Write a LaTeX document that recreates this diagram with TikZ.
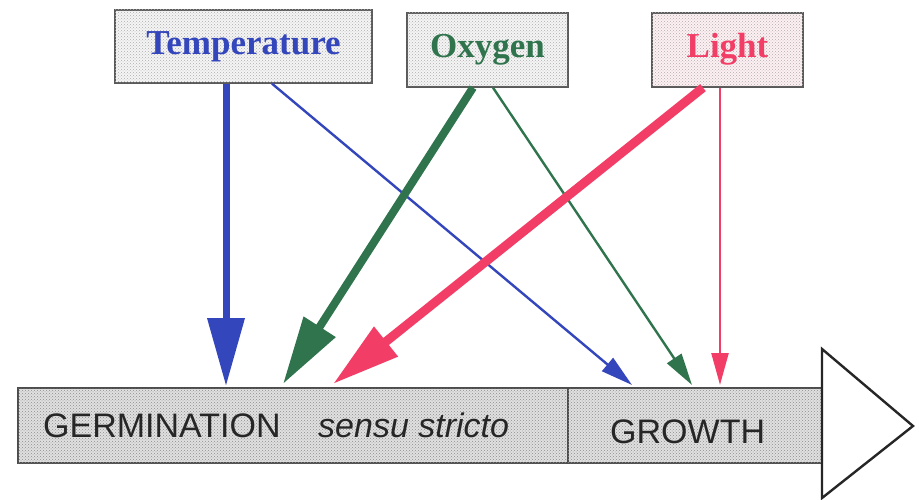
\documentclass[tikz,border=0pt]{standalone}
\usepackage{fontspec}
\setmainfont{Liberation Serif}
\newfontfamily\stagefont{Liberation Sans}
\usetikzlibrary{arrows.meta,patterns}

\definecolor{tempblue}{RGB}{52,70,188}
\definecolor{oxgreen}{RGB}{48,116,78}
\definecolor{lightred}{RGB}{242,62,102}

\tikzset{
  factor/.style={draw=black!65, line width=1.3pt, fill=black!4,
    postaction={pattern=crosshatch dots, pattern color=black!32},
    inner sep=0pt, text height=24pt, text depth=8pt,
    font=\fontsize{35}{40}\selectfont\bfseries},
  stage/.style={draw=black!70, line width=1.2pt, fill=black!12,
    postaction={pattern=crosshatch dots, pattern color=black!45},
    inner sep=0pt, minimum height=75pt},
  stagetext/.style={anchor=base west, inner sep=0pt, text=black!85,
    font=\stagefont\fontsize{34}{40}\selectfont},
  strong/.style={line width=#1, -{Triangle[length=68pt,width=36pt]}},
  weak/.style={line width=2.4pt, -{Triangle[length=32pt,width=17pt]}},
}

\begin{document}
\begin{tikzpicture}[x=1pt,y=-1pt]
\useasboundingbox (0,0) rectangle (919,500);

% factors
\node[factor, text=tempblue, minimum width=257pt, minimum height=73pt] (temp) at (243.5,46.5) {Temperature};
\node[factor, text=oxgreen, minimum width=161pt, minimum height=74pt] (oxy) at (487.5,50) {Oxygen};
\node[factor, text=lightred, fill=lightred!8, minimum width=151pt, minimum height=74pt] (light) at (727.5,50) {Light};

% stages
\node[stage, minimum width=550pt] (germ) at (293,425.5) {};
\node[stage, minimum width=254pt] (growth) at (695,425.5) {};
\draw[black!85, line width=2.4pt, fill=white, line join=miter] (822,349)--(913,426)--(822,498)--cycle;

\node[stagetext] (germlabel) at (43,437) {GERMINATION};
\node[stagetext] (sensulabel) at (318,437) {\itshape sensu stricto};
\node[stagetext] (growthlabel) at (610,443) {GROWTH};

% arrow ends on the bar
\coordinate (tg) at (226,386);
\coordinate (tw) at (632,385);
\coordinate (og) at (283,384);
\coordinate (ow) at (692,385);
\coordinate (lg) at (333,384);
\coordinate (lw) at (720,385);

\draw[tempblue, strong=7pt] ([xshift=-17.5pt]temp.south) -- (tg);
\draw[tempblue, weak] ([xshift=28.5pt]temp.south) -- (tw);
\draw[oxgreen, strong=8pt] ([xshift=-14.5pt]oxy.south) -- (og);
\draw[oxgreen, weak] ([xshift=5.5pt]oxy.south) -- (ow);
\draw[lightred, strong=9pt] ([xshift=-24.5pt]light.south) -- (lg);
\draw[lightred, weak] ([xshift=-7.5pt]light.south) -- (lw);

\end{tikzpicture}
\end{document}
